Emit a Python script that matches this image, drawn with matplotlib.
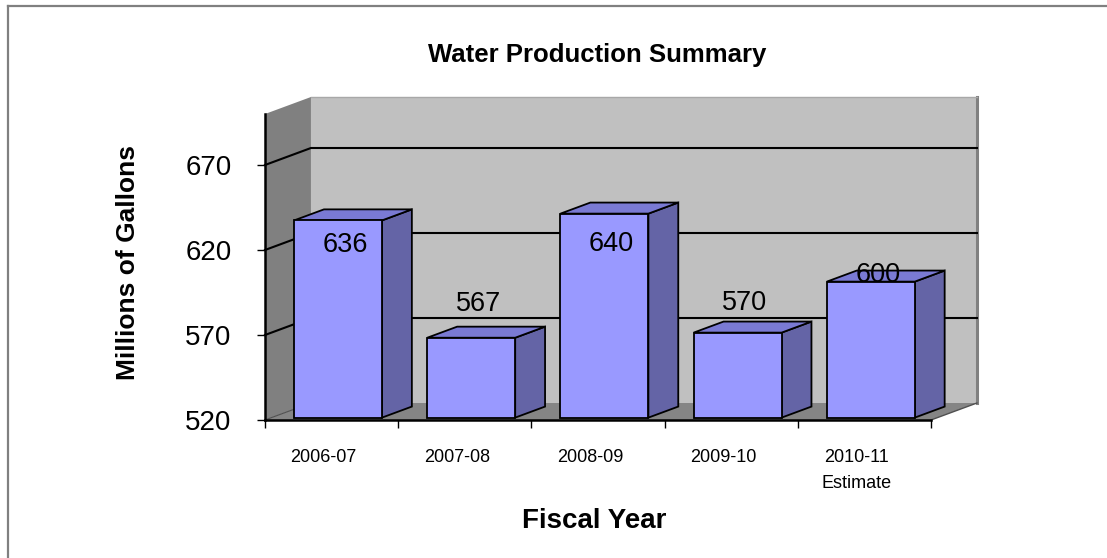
import matplotlib
matplotlib.use("Agg")
import matplotlib.pyplot as plt
from matplotlib.patches import Polygon
from matplotlib.lines import Line2D
from matplotlib.transforms import offset_copy

plt.rcParams['font.family'] = ['Liberation Sans', 'DejaVu Sans']

# ---- data ----
categories = ["2006-07", "2007-08", "2008-09", "2009-10", "2010-11\nEstimate"]
production = [636, 567, 640, 570, 600]
y_ticks = [520, 570, 620, 670]
title = "Water Production Summary"
x_title = "Fiscal Year"
y_title = "Millions of Gallons"

# ---- styling ----
Y_MIN, Y_MAX = 520, 700
DX, DY = 0.345, 10.0          # 3-D depth offset (x in category units, y in data units)
D_FRONT, D_BACK = 0.14, 0.79  # bar depth range (fraction of full depth)
BAR_W = 0.66
label_shift = [-13, 21, -16.5, 19, 5.5]   # data label vertical placement
FRONT, SIDE, TOP = "#9999FF", "#6464A6", "#7A7AD4"
WALL, SIDEWALL, FLOOR = "#C0C0C0", "#808080", "#858585"

fig = plt.figure(figsize=(11.07, 5.58), dpi=100)
W, H = 1107, 558
ax = fig.add_axes([265 / W, 1 - 420 / H, 666 / W, 306 / H])
n = len(categories)
x0, x1 = -0.5, n - 0.5
ax.set_xlim(x0, x1)
ax.set_ylim(Y_MIN, Y_MAX)
ax.patch.set_visible(False)


def poly(pts, fc, ec="none", lw=0, z=1):
    ax.add_patch(Polygon(pts, closed=True, facecolor=fc, edgecolor=ec,
                         linewidth=lw, joinstyle="miter", clip_on=False, zorder=z))


# back wall, side wall, floor
poly([(x0 + DX, Y_MIN + DY), (x1 + DX, Y_MIN + DY), (x1 + DX, Y_MAX + DY), (x0 + DX, Y_MAX + DY)], WALL, z=0.5)
ax.plot([x1 + DX, x1 + DX], [Y_MIN + DY, Y_MAX + DY], color="#808080", lw=2.2, clip_on=False, zorder=0.6)
ax.plot([x0 + DX, x1 + DX], [Y_MAX + DY, Y_MAX + DY], color="#A8A8A8", lw=1.0, clip_on=False, zorder=0.6)
poly([(x0, Y_MIN), (x0 + DX, Y_MIN + DY), (x0 + DX, Y_MAX + DY), (x0, Y_MAX)], SIDEWALL, z=0.7)
poly([(x0, Y_MIN), (x1, Y_MIN), (x1 + DX, Y_MIN + DY), (x0 + DX, Y_MIN + DY)], FLOOR, z=0.7)
ax.plot([x1, x1 + DX], [Y_MIN, Y_MIN + DY], color="#505050", lw=1.0, clip_on=False, zorder=0.8)
ax.plot([x0, x0 + DX], [Y_MIN, Y_MIN + DY], color="#505050", lw=0.8, clip_on=False, zorder=0.8)

# gridlines on the walls
for v in y_ticks[1:]:
    ax.plot([x0, x0 + DX, x1 + DX], [v, v + DY, v + DY], color="black", lw=1.5,
            clip_on=False, zorder=0.9, solid_joinstyle="miter")

# 3-D bars
ddx = (D_BACK - D_FRONT) * DX
for i, v in enumerate(production):
    xl = i - BAR_W / 2 + D_FRONT * DX
    xr = i + BAR_W / 2 + D_FRONT * DX
    yb = Y_MIN + D_FRONT * DY
    yt = v + D_FRONT * DY
    yb2 = Y_MIN + D_BACK * DY
    yt2 = v + D_BACK * DY
    poly([(xr, yb), (xr + ddx, yb2), (xr + ddx, yt2), (xr, yt)], SIDE, "black", 1.3, z=2)
    poly([(xl, yt), (xr, yt), (xr + ddx, yt2), (xl + ddx, yt2)], TOP, "black", 1.3, z=2)
    poly([(xl, yb), (xr, yb), (xr, yt), (xl, yt)], FRONT, "black", 1.3, z=2.1)
    ax.text(i + 0.1, v + label_shift[i], f"{v}", ha="center", va="center",
            fontsize=19.5, color="black", zorder=3)

# axes lines and ticks
for s in ("top", "right"):
    ax.spines[s].set_visible(False)
for s in ("left", "bottom"):
    ax.spines[s].set_linewidth(1.8)
    ax.spines[s].set_zorder(2.5)
ax.set_yticks(y_ticks)
ax.set_yticklabels([str(t) for t in y_ticks], fontsize=20)
ax.tick_params(axis="y", direction="out", length=6, width=1, pad=18)
ax.set_xticks([x0 + k for k in range(n + 1)])
ax.set_xticklabels([])
ax.tick_params(axis="x", direction="out", length=6, width=1)

# category labels
for i, c in enumerate(categories):
    tr = offset_copy(ax.transData, fig=fig, x=-8, y=-29, units="dots")
    ax.text(i, Y_MIN, c, transform=tr, ha="center", va="top", fontsize=13,
            linespacing=1.7, multialignment="center", clip_on=False)

# titles
fig.text(597 / W, 1 - 55 / H, title, ha="center", va="center", fontsize=18.5, fontweight="bold")
fig.text(594.5 / W, 1 - 521 / H, x_title, ha="center", va="center", fontsize=20, fontweight="bold")
fig.text(128 / W, 1 - 263 / H, y_title, ha="center", va="center", rotation=90,
         fontsize=19, fontweight="bold")

# outer frame (top and left edges)
fig.add_artist(Line2D([7.5 / W, 1.0], [1 - 5.5 / H, 1 - 5.5 / H], color="#808080", lw=1.6,
                      transform=fig.transFigure))
fig.add_artist(Line2D([7.5 / W, 7.5 / W], [1 - 5.5 / H, 0.0], color="#808080", lw=1.6,
                      transform=fig.transFigure))

fig.savefig("out.png", dpi=100)
